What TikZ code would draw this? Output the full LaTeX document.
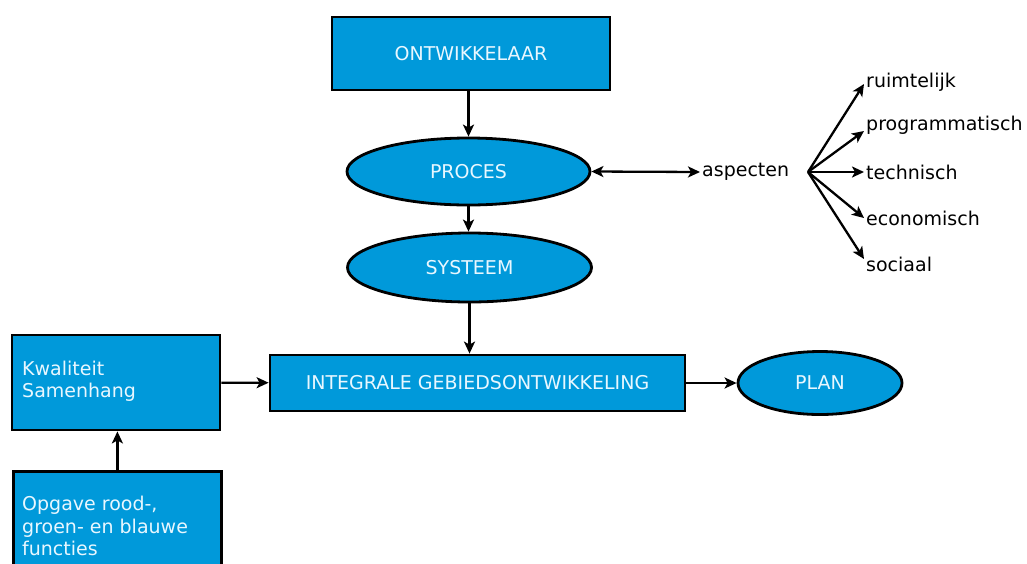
\documentclass[tikz,border=0pt]{standalone}
\usepackage{fontspec}
\setmainfont{DejaVu Sans}
\usetikzlibrary{arrows.meta, shapes.geometric, positioning}
\definecolor{boxblue}{HTML}{0099DA}
\definecolor{boxtext}{HTML}{E8F7FF}

\begin{document}
\begin{tikzpicture}[
    x=1pt, y=-1pt,
    >={Stealth[length=12pt, width=11pt, inset=3pt]},
    font=\fontsize{19}{22.5}\selectfont,
    % --- block styles ---
    blok/.style={
        draw=black, fill=boxblue, line width=2.8pt,
        text=boxtext, inner sep=0pt},
    rechthoek/.style={blok, rectangle},
    ovaal/.style={blok, ellipse},
    bloktekst/.style={
        text=boxtext, align=left, anchor=north west, inner sep=0pt},
    term/.style={anchor=west, inner sep=2pt},
    arr/.style={->, line width=2.3pt},
]
\useasboundingbox (0,0) rectangle (1027,563);

% ===== MAIN COLUMN =====
\node[rechthoek, minimum width=278pt, minimum height=73pt] (ontw) at (471,53.5) {ONTWIKKELAAR};
\node[ovaal, minimum width=243pt, minimum height=67pt] (proces) at (468.5,171.5) {PROCES};
\node[ovaal, minimum width=244pt, minimum height=69pt] (systeem) at (469.5,267.5) {SYSTEEM};
\node[rechthoek, minimum width=415pt, minimum height=56pt] (igo) at (477.5,383) {INTEGRALE GEBIEDSONTWIKKELING};
\node[ovaal, minimum width=164pt, minimum height=63pt] (plan) at (820,383) {PLAN};

% ===== LEFT BOXES =====
\node[rechthoek, minimum width=208pt, minimum height=95pt] (kwal) at (116,382.5) {};
\node[bloktekst] (kwaltekst) at (22,360.5) {Kwaliteit\\Samenhang};

\node[rechthoek, minimum width=208pt, minimum height=110pt, anchor=north west] (opgave) at (12,470) {};
\node[bloktekst] (opgavetekst) at (22,496) {Opgave rood-,\\groen- en blauwe\\functies};

% ===== ASPECTS =====
\node[term] (asp) at (700,172) {aspecten};
\coordinate (fan) at (808,172);

\node[term] (ruim) at (864,82) {ruimtelijk};
\node[term] (prog) at (864,125) {programmatisch};
\node[term] (tech) at (864,172) {technisch};
\node[term] (econ) at (864,218) {economisch};
\node[term] (soc) at (864,264) {sociaal};

% ===== ARROWS — main column =====
\draw[arr] (proces.north |- ontw.south) -- (proces.north);
\draw[arr] (proces.south) -- (proces.south |- systeem.north);
\draw[arr] (systeem.south) -- (systeem.south |- igo.north);
\draw[arr] (igo) -- (plan);

% ===== ARROWS — left =====
\draw[arr] (kwal) -- (igo);
\draw[arr] (opgave.north) -- (opgave.north |- kwal.south);

% ===== ARROWS — aspects =====
\draw[<->, line width=2.3pt] (proces.east) -- (asp.west);
\draw[arr] (fan) -- ([yshift=-2pt]ruim.west);
\draw[arr] (fan) -- ([yshift=-6pt]prog.west);
\draw[arr] (fan) -- (tech.west);
\draw[arr] (fan) -- (econ.west);
\draw[arr] (fan) -- ([yshift=5pt]soc.west);

\end{tikzpicture}
\end{document}
